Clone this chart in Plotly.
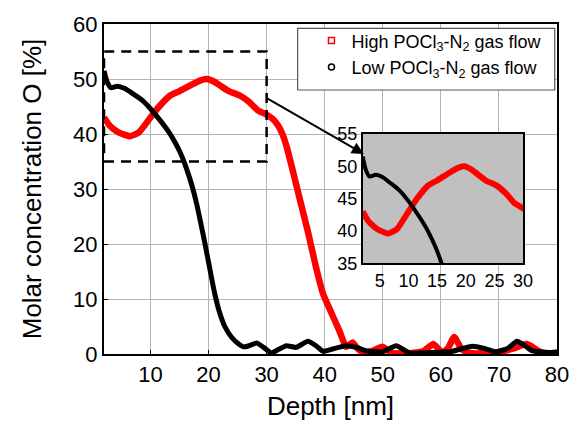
import plotly.graph_objects as go

# High POCl3-N2 gas flow (red)
high_x = [2, 3, 4.5, 6.5, 8, 10, 11.5, 13.4, 15, 16.8, 18.5, 19.7, 21, 22, 23.5, 25.4, 27, 28.5, 30,
          31, 32, 32.8, 33.5, 34.3, 35.7, 37.1, 38.5, 39.7, 41.1, 42.5, 43.7, 44.8, 45.5, 46.5, 48, 50,
          51.5, 53, 55, 57, 58.7, 60.2, 61.2, 62.3, 63.5, 64.5, 66, 68, 70, 72.5, 74.8, 76.9, 78.5, 80]
high_y = [43.0, 41.5, 40.3, 39.6, 40.3, 43.0, 45.0, 47.0, 47.8, 48.8, 49.7, 50.0, 49.5, 48.8, 47.8,
          47.0, 45.8, 44.3, 43.5, 42.8, 41.5, 39.8, 37.5, 34.2, 28.2, 22.3, 15.8, 11.0, 7.6, 4.3, 1.3,
          2.1, 1.2, 0.3, 0.5, 1.3, 0.2, 0.1, 0.2, 0.5, 1.8, 0.3, 1.0, 3.1, 1.0, 0.3, 0.1, 0.2, 0.3,
          1.0, 1.8, 0.5, 0.1, 0.3]

# Low POCl3-N2 gas flow (black)
low_x = [2, 2.5, 3.2, 4.3, 5.5, 7, 8.5, 10, 11.5, 13, 14, 15, 15.8, 16.5, 17.2, 18, 18.7, 19.4,
         20.2, 21, 21.8, 22.8, 24, 25.2, 26, 27, 28.3, 29.5, 30.8, 32, 33.4, 35.1, 37.1, 38.5,
         39.7, 41, 43.7, 45.5, 47.1, 50, 52.3, 54.6, 57, 59.7, 62, 65.4, 67.5, 69.4, 71.5, 73.1,
         74.5, 75.7, 78, 80]
low_y = [51.5, 49.6, 48.4, 48.7, 48.3, 47.3, 46.2, 44.6, 42.7, 40.6, 38.9, 36.9, 34.9, 32.8, 30.4,
         27.1, 23.6, 20.0, 15.6, 11.3, 7.9, 5.0, 3.0, 1.8, 1.3, 1.5, 2.0, 1.2, 0.2, 0.8, 1.5, 1.2,
         2.3, 1.5, 0.5, 0.8, 1.5, 1.2, 0.6, 0.4, 1.5, 0.2, 0.2, 0.3, 0.5, 1.4, 1.0, 0.4, 1.0, 2.3,
         1.5, 0.6, 0.3, 0.3]

main_xrange = [2, 80]
main_yrange = [0, 60]
main_xticks = [10, 20, 30, 40, 50, 60, 70, 80]
main_yticks = [0, 10, 20, 30, 40, 50, 60]
inset_xrange = [2, 30]
inset_yrange = [35, 55]
inset_xticks = [5, 10, 15, 20, 25, 30]
inset_yticks = [35, 40, 45, 50, 55]

names = ["High POCl<sub>3</sub>-N<sub>2</sub> gas flow", "Low POCl<sub>3</sub>-N<sub>2</sub> gas flow"]

RED = "#ff0000"
BLK = "#000000"
FONT = "Arial, Liberation Sans, sans-serif"

fig = go.Figure()

# main traces
fig.add_trace(go.Scatter(x=high_x, y=high_y, mode="lines", line=dict(color=RED, width=6.5, shape="spline", smoothing=0.5),
                         showlegend=False, xaxis="x", yaxis="y"))
fig.add_trace(go.Scatter(x=low_x, y=low_y, mode="lines", line=dict(color=BLK, width=5, shape="spline", smoothing=0.5),
                         showlegend=False, xaxis="x", yaxis="y"))
# inset background (grey panel spanning inset axis ranges)
bx = [inset_xrange[0], inset_xrange[1], inset_xrange[1], inset_xrange[0], inset_xrange[0]]
by = [inset_yrange[0], inset_yrange[0], inset_yrange[1], inset_yrange[1], inset_yrange[0]]
fig.add_trace(go.Scatter(x=bx, y=by, mode="lines", fill="toself", fillcolor="#c0c0c0",
                         line=dict(width=0, color="#c0c0c0"), hoverinfo="skip", showlegend=False,
                         xaxis="x2", yaxis="y2"))
# inset traces
fig.add_trace(go.Scatter(x=high_x, y=high_y, mode="lines", line=dict(color=RED, width=6, shape="spline", smoothing=0.5),
                         showlegend=False, xaxis="x2", yaxis="y2"))
fig.add_trace(go.Scatter(x=low_x, y=low_y, mode="lines", line=dict(color=BLK, width=4, shape="spline", smoothing=0.5),
                         showlegend=False, xaxis="x2", yaxis="y2"))
# legend entries
fig.add_trace(go.Scatter(x=[None], y=[None], mode="markers", name=names[0],
                         marker=dict(symbol="square-open", color=RED, size=6, line=dict(width=1.5))))
fig.add_trace(go.Scatter(x=[None], y=[None], mode="markers", name=names[1],
                         marker=dict(symbol="circle-open", color=BLK, size=6, line=dict(width=1.5))))

fig.update_layout(
    width=581, height=428,
    margin=dict(l=104, r=23, t=21, b=71),
    paper_bgcolor="white", plot_bgcolor="white",
    font=dict(family=FONT, color="black"),
    xaxis=dict(range=main_xrange, tickvals=main_xticks, showgrid=True, gridcolor="#b4b4b4", gridwidth=1,
               showline=True, linecolor="black", linewidth=2, mirror=True, ticks="inside", ticklen=4,
               tickcolor="black", zeroline=False, tickfont=dict(size=22),
               title=dict(text="Depth [nm]", font=dict(size=26), standoff=10)),
    yaxis=dict(range=main_yrange, tickvals=main_yticks, showgrid=True, gridcolor="#b4b4b4", gridwidth=1,
               showline=True, linecolor="black", linewidth=2, mirror=True, ticks="inside", ticklen=4,
               tickcolor="black", zeroline=False, tickfont=dict(size=22),
               title=dict(text="Molar concentration O [%]", font=dict(size=26), standoff=24)),
    xaxis2=dict(domain=[0.571, 0.925], anchor="y2", range=inset_xrange, tickvals=inset_xticks,
                showgrid=False, showline=True, linecolor="black", linewidth=1.5, mirror=True,
                ticks="", zeroline=False, tickfont=dict(size=18)),
    yaxis2=dict(domain=[0.275, 0.667], anchor="x2", range=inset_yrange, tickvals=inset_yticks,
                showgrid=False, showline=True, linecolor="black", linewidth=1.5, mirror=True,
                ticks="", zeroline=False, tickfont=dict(size=18)),
    legend=dict(x=0.458, y=1.005, xanchor="left", yanchor="top", bgcolor="rgba(0,0,0,0)",
                borderwidth=0, font=dict(size=18, family=FONT)),
    shapes=[
        dict(type="rect", xref="x", yref="y", x0=2, x1=30, y0=35, y1=55,
             line=dict(color="black", width=2.5, dash="10px,7px"), layer="above"),
        dict(type="rect", xref="paper", yref="paper", x0=0.4275, x1=0.995, y0=0.80, y1=0.987,
             fillcolor="white", line=dict(color="#555555", width=1.2), layer="above"),
    ],
    annotations=[
        dict(x=2.2, y=51.9, xref="x2", yref="y2", ax=-99, ay=-57, axref="pixel", ayref="pixel",
             showarrow=True, arrowhead=2, arrowsize=1.2, arrowwidth=2, arrowcolor="black", text="",
             standoff=0),
    ],
)

fig.write_html("out.html")
